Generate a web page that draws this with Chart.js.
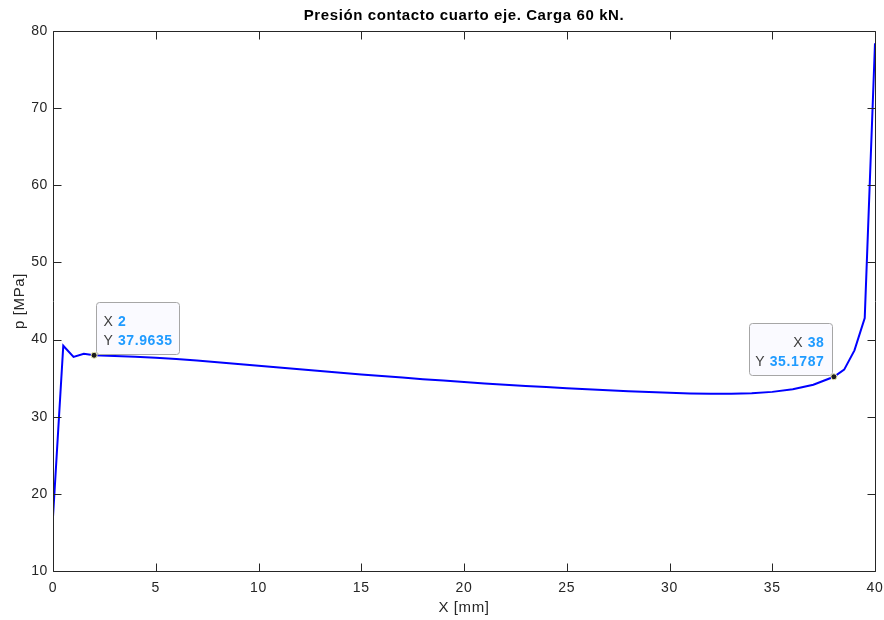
<!DOCTYPE html>
<html>
<head>
<meta charset="utf-8">
<script src="https://cdn.jsdelivr.net/npm/chart.js@4.4.1/dist/chart.umd.min.js"></script>
<style>
html,body{margin:0;padding:0;background:#fff;}
#wrap{width:884px;height:620px;}
</style>
</head>
<body>
<div id="wrap"><canvas id="c" width="884" height="620"></canvas></div>
<script>
// ---- data ----
const xValues = [0, 0.5, 1, 1.5, 2, 3, 4, 5, 6, 7, 8, 9, 10, 11, 12, 13, 14, 15, 16, 17, 18, 19, 20,
  21, 22, 23, 24, 25, 26, 27, 28, 29, 30, 31, 32, 33, 34, 35, 36, 37, 38, 38.5, 39, 39.5, 40];
const pValues = [17.0, 39.2, 37.75, 38.15, 37.9635, 37.88, 37.78, 37.65, 37.48, 37.28, 37.06, 36.84, 36.6,
  36.37, 36.14, 35.92, 35.70, 35.48, 35.27, 35.07, 34.87, 34.68, 34.50,
  34.32, 34.15, 33.99, 33.84, 33.70, 33.56, 33.43, 33.31, 33.20, 33.10, 33.02, 32.97, 32.97, 33.05,
  33.22, 33.55, 34.15, 35.1787, 36.1, 38.6, 42.8, 78.4];
const tipX = [2, 38];
const tipY = [37.9635, 35.1787];
const tipAlign = ['left', 'right'];
const xTicks = [0, 5, 10, 15, 20, 25, 30, 35, 40];
const yTicks = [10, 20, 30, 40, 50, 60, 70, 80];

const FONT = '"Liberation Sans", Arial, Helvetica, sans-serif';
const AX = '#262626';

const points = xValues.map((x, i) => ({x: x, y: pValues[i]}));

const boxPlugin = {
  id: 'boxPlugin',
  beforeDraw(chart) {
    try { chart.ctx.letterSpacing = '0.6px'; } catch (e) {}
  },
  afterDatasetsDraw(chart) {
    const {ctx, chartArea: a, scales} = chart;
    ctx.save();
    ctx.strokeStyle = AX;
    ctx.lineWidth = 1;
    ctx.beginPath();
    const L = Math.round(a.left) + 0.5, R = Math.round(a.right) + 0.5;
    const T = Math.round(a.top) + 0.5, B = Math.round(a.bottom) + 0.5;
    ctx.rect(L, T, R - L, B - T);
    const tl = 8;
    xTicks.forEach(v => {
      const px = Math.round(scales.x.getPixelForValue(v)) + 0.5;
      ctx.moveTo(px, B); ctx.lineTo(px, B - tl);
      ctx.moveTo(px, T); ctx.lineTo(px, T + tl);
    });
    yTicks.forEach(v => {
      const py = Math.round(scales.y.getPixelForValue(v)) + 0.5;
      ctx.moveTo(L, py); ctx.lineTo(L + tl, py);
      ctx.moveTo(R, py); ctx.lineTo(R - tl, py);
    });
    ctx.stroke();
    ctx.restore();
  },
  afterDraw(chart) {
    const {ctx, scales} = chart;
    ctx.save();
    tipX.forEach((tx, i) => {
      const px = scales.x.getPixelForValue(tx);
      const py = scales.y.getPixelForValue(tipY[i]);
      const w = 83, h = 52;
      let bx, by;
      if (tipAlign[i] === 'left') { bx = px + 2; by = py - 1 - h; }
      else { bx = px - 2 - w; by = py - 2 - h; }
      bx = Math.round(bx) + 0.5; by = Math.round(by) + 0.5;
      // box
      ctx.beginPath();
      const r = 3;
      ctx.moveTo(bx + r, by);
      ctx.lineTo(bx + w - r, by); ctx.arcTo(bx + w, by, bx + w, by + r, r);
      ctx.lineTo(bx + w, by + h - r); ctx.arcTo(bx + w, by + h, bx + w - r, by + h, r);
      ctx.lineTo(bx + r, by + h); ctx.arcTo(bx, by + h, bx, by + h - r, r);
      ctx.lineTo(bx, by + r); ctx.arcTo(bx, by, bx + r, by, r);
      ctx.closePath();
      ctx.fillStyle = 'rgba(250,250,255,0.95)';
      ctx.fill();
      ctx.strokeStyle = '#a6a6a6';
      ctx.lineWidth = 1;
      ctx.stroke();
      // text
      const rows = [['X', String(tx)], ['Y', String(tipY[i])]];
      ctx.textBaseline = 'alphabetic';
      rows.forEach((row, k) => {
        const baseY = by + 23 + k * 19;
        ctx.font = '14px ' + FONT;
        const lw = ctx.measureText(row[0] + ' ').width;
        ctx.font = 'bold 14px ' + FONT;
        const vw = ctx.measureText(row[1]).width;
        let sx;
        if (tipAlign[i] === 'left') sx = bx + 7;
        else sx = bx + w - 8 - vw - lw;
        ctx.font = '14px ' + FONT;
        ctx.fillStyle = '#404040';
        ctx.textAlign = 'left';
        ctx.fillText(row[0], sx, baseY);
        ctx.font = 'bold 14px ' + FONT;
        ctx.fillStyle = '#1f9bff';
        ctx.fillText(row[1], sx + lw, baseY);
      });
      // marker
      ctx.beginPath();
      ctx.arc(px, py, 3, 0, Math.PI * 2);
      ctx.fillStyle = '#1a1a1a';
      ctx.fill();
      ctx.strokeStyle = '#e6e6b0';
      ctx.lineWidth = 1;
      ctx.stroke();
    });
    ctx.restore();
  }
};

new Chart(document.getElementById('c'), {
  type: 'line',
  data: {
    datasets: [{
      data: points,
      borderColor: '#0000ff',
      borderWidth: 2,
      pointRadius: 0,
      tension: 0,
      fill: false
    }]
  },
  options: {
    responsive: false,
    animation: false,
    events: [],
    layout: {padding: {left: 0, right: 9, top: 0, bottom: 0}},
    plugins: {
      legend: {display: false},
      tooltip: {enabled: false},
      title: {
        display: true,
        fullSize: false,
        text: 'Presión contacto cuarto eje. Carga 60 kN.',
        color: '#000',
        font: {family: FONT, size: 15, weight: 'bold'},
        padding: {top: 7, bottom: 6}
      }
    },
    scales: {
      x: {
        type: 'linear',
        min: 0, max: 40,
        afterFit(s) { s.height = 49; s.paddingRight = 0; s.paddingLeft = 0; },
        afterBuildTicks(s) { s.ticks = xTicks.map(v => ({value: v})); },
        grid: {display: false, drawTicks: false},
        border: {display: false},
        ticks: {color: AX, font: {family: FONT, size: 14}, padding: 9, maxRotation: 0, autoSkip: false},
        title: {display: true, text: 'X [mm]', color: AX, font: {family: FONT, size: 15}, padding: {top: 0, bottom: 3}}
      },
      y: {
        type: 'linear',
        min: 10, max: 80,
        afterFit(s) { s.width = 53; s.paddingTop = 0; s.paddingBottom = 0; },
        afterBuildTicks(s) { s.ticks = yTicks.map(v => ({value: v})); },
        grid: {display: false, drawTicks: false},
        border: {display: false},
        ticks: {color: AX, font: {family: FONT, size: 14}, padding: 5, autoSkip: false},
        title: {display: true, text: 'p [MPa]', color: AX, font: {family: FONT, size: 15}, padding: {top: 11, bottom: 0}}
      }
    }
  },
  plugins: [boxPlugin]
});
</script>
</body>
</html>
